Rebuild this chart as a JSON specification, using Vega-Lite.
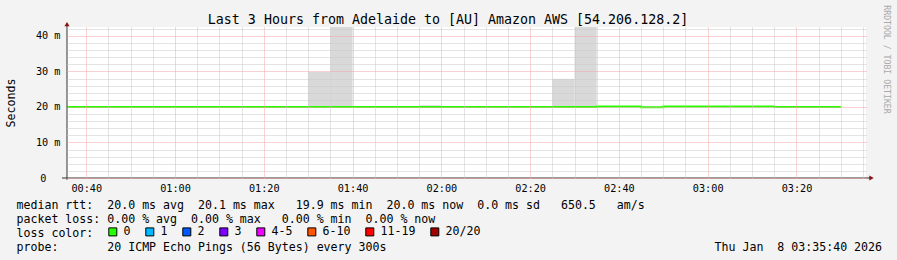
{
  "$schema": "https://vega.github.io/schema/vega-lite/v6.json",
  "width": 799,
  "height": 151,
  "autosize": {"type": "none"},
  "padding": {"left": 67, "top": 27, "right": 31, "bottom": 82},
  "background": "#f3f3f3",
  "title": {"text": "Last 3 Hours from Adelaide to [AU] Amazon AWS [54.206.128.2]", "font": "DejaVu Sans Mono", "fontSize": 13.3, "fontWeight": "normal", "color": "#000000", "anchor": "middle", "frame": "group", "baseline": "alphabetic", "offset": -32.3, "dx": -18.5},
  "config": {"view": {"fill": "#ffffff", "stroke": null}},
  "datasets": {
    "median": [
      {"time": "2026-01-08T00:35:00Z", "rtt": 20.0, "loss": "0"},
      {"time": "2026-01-08T00:40:00Z", "rtt": 20.0, "loss": "0"},
      {"time": "2026-01-08T00:45:00Z", "rtt": 20.0, "loss": "0"},
      {"time": "2026-01-08T00:50:00Z", "rtt": 20.0, "loss": "0"},
      {"time": "2026-01-08T00:55:00Z", "rtt": 20.0, "loss": "0"},
      {"time": "2026-01-08T01:00:00Z", "rtt": 20.0, "loss": "0"},
      {"time": "2026-01-08T01:05:00Z", "rtt": 20.0, "loss": "0"},
      {"time": "2026-01-08T01:10:00Z", "rtt": 20.0, "loss": "0"},
      {"time": "2026-01-08T01:15:00Z", "rtt": 20.0, "loss": "0"},
      {"time": "2026-01-08T01:20:00Z", "rtt": 20.0, "loss": "0"},
      {"time": "2026-01-08T01:25:00Z", "rtt": 20.0, "loss": "0"},
      {"time": "2026-01-08T01:30:00Z", "rtt": 20.0, "loss": "0"},
      {"time": "2026-01-08T01:35:00Z", "rtt": 20.0, "loss": "0"},
      {"time": "2026-01-08T01:40:00Z", "rtt": 20.0, "loss": "0"},
      {"time": "2026-01-08T01:45:00Z", "rtt": 20.0, "loss": "0"},
      {"time": "2026-01-08T01:50:00Z", "rtt": 20.0, "loss": "0"},
      {"time": "2026-01-08T01:55:00Z", "rtt": 20.0, "loss": "0"},
      {"time": "2026-01-08T02:00:00Z", "rtt": 20.0, "loss": "0"},
      {"time": "2026-01-08T02:05:00Z", "rtt": 20.0, "loss": "0"},
      {"time": "2026-01-08T02:10:00Z", "rtt": 20.0, "loss": "0"},
      {"time": "2026-01-08T02:15:00Z", "rtt": 20.0, "loss": "0"},
      {"time": "2026-01-08T02:20:00Z", "rtt": 20.0, "loss": "0"},
      {"time": "2026-01-08T02:25:00Z", "rtt": 20.0, "loss": "0"},
      {"time": "2026-01-08T02:30:00Z", "rtt": 20.0, "loss": "0"},
      {"time": "2026-01-08T02:35:00Z", "rtt": 20.1, "loss": "0"},
      {"time": "2026-01-08T02:40:00Z", "rtt": 20.1, "loss": "0"},
      {"time": "2026-01-08T02:45:00Z", "rtt": 19.9, "loss": "0"},
      {"time": "2026-01-08T02:50:00Z", "rtt": 20.1, "loss": "0"},
      {"time": "2026-01-08T02:55:00Z", "rtt": 20.1, "loss": "0"},
      {"time": "2026-01-08T03:00:00Z", "rtt": 20.1, "loss": "0"},
      {"time": "2026-01-08T03:05:00Z", "rtt": 20.1, "loss": "0"},
      {"time": "2026-01-08T03:10:00Z", "rtt": 20.1, "loss": "0"},
      {"time": "2026-01-08T03:15:00Z", "rtt": 19.95, "loss": "0"},
      {"time": "2026-01-08T03:20:00Z", "rtt": 19.95, "loss": "0"},
      {"time": "2026-01-08T03:25:00Z", "rtt": 19.95, "loss": "0"},
      {"time": "2026-01-08T03:30:00Z", "rtt": 19.95, "loss": "0"}
    ]
  },
  "resolve": {"scale": {"x": "independent", "y": "independent"}},
  "layer": [
    {
      "layer": [
        {
          "data": {"values": [
            {"start": "2026-01-08T01:30:00Z", "end": "2026-01-08T01:35:00Z", "lo": 20.0, "hi": 29.8},
            {"start": "2026-01-08T01:35:00Z", "end": "2026-01-08T01:40:00Z", "lo": 20.0, "hi": 45.0},
            {"start": "2026-01-08T01:55:00Z", "end": "2026-01-08T02:00:00Z", "lo": 20.0, "hi": 20.45},
            {"start": "2026-01-08T02:25:00Z", "end": "2026-01-08T02:30:00Z", "lo": 20.0, "hi": 27.9},
            {"start": "2026-01-08T02:30:00Z", "end": "2026-01-08T02:35:00Z", "lo": 20.0, "hi": 45.0}
          ]},
          "mark": {"type": "rect", "color": "#d9d9d9", "clip": true},
          "encoding": {
            "x": {"field": "start", "type": "temporal", "scale": {"type": "utc", "domain": [1767832540000, 1767843340000]},
              "axis": {"zindex": 1, "values": [1767832800000, 1767834000000, 1767835200000, 1767836400000, 1767837600000, 1767838800000, 1767840000000, 1767841200000, 1767842400000], "tickCount": 30, "format": "%H:%M", "grid": true, "gridColor": "#f4a4a4", "gridDash": [1, 1], "gridOpacity": 1, "domain": false, "ticks": false, "tickSize": 0, "labelPadding": 5, "labelFont": "DejaVu Sans Mono", "labelFontSize": 10.2, "labelColor": "#000000", "labelFlush": false, "labelOverlap": false,
                "title": [
                  "median\u00a0rtt:\u00a0\u00a020.0\u00a0ms\u00a0avg\u00a0\u00a020.1\u00a0ms\u00a0max\u00a0\u00a0\u00a019.9\u00a0ms\u00a0min\u00a0\u00a020.0\u00a0ms\u00a0now\u00a0\u00a00.0\u00a0ms\u00a0sd\u00a0\u00a0\u00a0650.5\u00a0\u00a0\u00a0am/s",
                  "packet\u00a0loss:\u00a00.00\u00a0%\u00a0avg\u00a0\u00a00.00\u00a0%\u00a0max\u00a0\u00a0\u00a00.00\u00a0%\u00a0min\u00a0\u00a00.00\u00a0%\u00a0now",
                  "loss\u00a0color:",
                  "probe:\u00a0\u00a0\u00a0\u00a0\u00a0\u00a0\u00a020\u00a0ICMP\u00a0Echo\u00a0Pings\u00a0(56\u00a0Bytes)\u00a0every\u00a0300s\u00a0\u00a0\u00a0\u00a0\u00a0\u00a0\u00a0\u00a0\u00a0\u00a0\u00a0\u00a0\u00a0\u00a0\u00a0\u00a0\u00a0\u00a0\u00a0\u00a0\u00a0\u00a0\u00a0\u00a0\u00a0\u00a0\u00a0\u00a0\u00a0\u00a0\u00a0\u00a0\u00a0\u00a0\u00a0\u00a0\u00a0\u00a0\u00a0\u00a0\u00a0\u00a0\u00a0\u00a0\u00a0\u00a0\u00a0Thu\u00a0Jan\u00a0\u00a08\u00a003:35:40\u00a02026"
                ],
                "titleFont": "DejaVu Sans Mono", "titleFontSize": 11.6, "titleFontWeight": "normal", "titleColor": "#000000", "titleAlign": "left", "titleAnchor": "start", "titleBaseline": "alphabetic", "titleX": -51, "titleY": 30, "titleLineHeight": 14, "titleLimit": 3000}},
            "x2": {"field": "end"},
            "y": {"field": "lo", "type": "quantitative", "scale": {"domain": [0, 42.5], "nice": false, "zero": false},
              "axis": {"zindex": 1, "values": [0, 10, 20, 30, 40], "tickCount": 10, "labelExpr": "datum.value == 0 ? '0\u2800\u2800' : datum.value + '\u00a0m'", "labelOverlap": false, "grid": true, "gridColor": "#f4a4a4", "gridDash": [1, 1], "gridOpacity": 1, "domain": false, "ticks": false, "tickSize": 0, "labelPadding": 7, "labelFont": "DejaVu Sans Mono", "labelFontSize": 10.2, "labelColor": "#000000", "labelBaseline": "middle",
                "title": "Seconds", "titleFont": "DejaVu Sans Mono", "titleFontSize": 11.6, "titleFontWeight": "normal", "titleColor": "#000000", "titleAngle": -90, "titleAlign": "center", "titleBaseline": "middle", "titleX": -55.5, "titleY": 75.5}},
            "y2": {"field": "hi"}
          }
        },
        {
          "data": {"name": "median"},
          "mark": {"type": "line", "interpolate": "step-after", "strokeWidth": 2, "clip": true},
          "encoding": {
            "x": {"field": "time", "type": "temporal", "scale": {"type": "utc", "domain": [1767832540000, 1767843340000]}},
            "y": {"field": "rtt", "type": "quantitative", "scale": {"domain": [0, 42.5], "nice": false, "zero": false}},
            "stroke": {"field": "loss", "type": "nominal", "scale": {"domain": ["0"], "range": ["#26ff00"]}, "legend": null}
          }
        },
        {
          "data": {"name": "median"},
          "mark": {"type": "square", "opacity": 0, "filled": true, "stroke": "#000000", "strokeWidth": 1},
          "encoding": {
            "x": {"field": "time", "type": "temporal", "scale": {"type": "utc", "domain": [1767832540000, 1767843340000]}},
            "y": {"field": "rtt", "type": "quantitative", "scale": {"domain": [0, 42.5], "nice": false, "zero": false}},
            "fill": {"field": "loss", "type": "nominal", "scale": {"domain": ["0", "1", "2", "3", "4-5", "6-10", "11-19", "20/20"], "range": ["#26ff00", "#00b8ff", "#0059ff", "#7e00ff", "#ee00ff", "#ff5500", "#ff0000", "#a10000"]},
              "legend": {"orient": "none", "legendX": 40, "legendY": 199, "direction": "horizontal", "title": null, "labelFont": "DejaVu Sans Mono", "labelFontSize": 11.6, "labelColor": "#000000", "labelOffset": 5, "labelLimit": 200, "symbolType": "square", "symbolSize": 64, "symbolStrokeColor": "#000000", "symbolStrokeWidth": 1, "symbolOpacity": 1, "columnPadding": 12, "padding": 0, "offset": 0}}
          }
        },
        {
          "data": {"values": [{}]},
          "mark": {"type": "rule", "color": "#333333", "strokeWidth": 1},
          "encoding": {
            "x": {"datum": 1767832540000, "type": "temporal", "scale": {"type": "utc", "domain": [1767832540000, 1767843340000]}},
            "y": {"datum": -0.5, "type": "quantitative", "scale": {"domain": [0, 42.5], "nice": false, "zero": false}},
            "y2": {"datum": 43.4}
          }
        },
        {
          "data": {"values": [{}]},
          "mark": {"type": "rule", "color": "#333333", "strokeWidth": 1},
          "encoding": {
            "x": {"datum": 1767832472400, "type": "temporal", "scale": {"type": "utc", "domain": [1767832540000, 1767843340000]}},
            "x2": {"datum": 1767843414000},
            "y": {"datum": 0, "type": "quantitative", "scale": {"domain": [0, 42.5], "nice": false, "zero": false}}
          }
        },
        {
          "data": {"values": [{}]},
          "mark": {"type": "point", "shape": "triangle-up", "filled": true, "color": "#8b1010", "opacity": 1, "size": 26},
          "encoding": {
            "x": {"datum": 1767832540000, "type": "temporal", "scale": {"type": "utc", "domain": [1767832540000, 1767843340000]}},
            "y": {"datum": 43.3, "type": "quantitative", "scale": {"domain": [0, 42.5], "nice": false, "zero": false}}
          }
        },
        {
          "data": {"values": [{}]},
          "mark": {"type": "point", "shape": "triangle-right", "filled": true, "color": "#8b1010", "opacity": 1, "size": 26},
          "encoding": {
            "x": {"datum": 1767843414000, "type": "temporal", "scale": {"type": "utc", "domain": [1767832540000, 1767843340000]}},
            "y": {"datum": 0, "type": "quantitative", "scale": {"domain": [0, 42.5], "nice": false, "zero": false}}
          }
        }
      ]
    },
    {
      "data": {"values": [{}]},
      "mark": {"type": "point", "opacity": 0},
      "encoding": {
        "x": {"datum": 1767832540000, "type": "temporal", "scale": {"type": "utc", "domain": [1767832540000, 1767843340000]},
          "axis": {"orient": "top", "zindex": 1, "values": [1767833100000, 1767833400000, 1767833700000, 1767834300000, 1767834600000, 1767834900000, 1767835500000, 1767835800000, 1767836100000, 1767836700000, 1767837000000, 1767837300000, 1767837900000, 1767838200000, 1767838500000, 1767839100000, 1767839400000, 1767839700000, 1767840300000, 1767840600000, 1767840900000, 1767841500000, 1767841800000, 1767842100000, 1767842700000, 1767843000000, 1767843300000], "tickCount": 60, "grid": true, "gridColor": "#c8c8c8", "gridDash": [1, 1], "gridOpacity": 1, "labels": false, "ticks": false, "domain": false, "title": null}},
        "y": {"datum": 0, "type": "quantitative", "scale": {"domain": [0, 42.5], "nice": false, "zero": false},
          "axis": {"orient": "right", "zindex": 1, "values": [2, 4, 6, 8, 12, 14, 16, 18, 22, 24, 26, 28, 32, 34, 36, 38, 42], "tickCount": 40, "grid": true, "gridColor": "#c8c8c8", "gridDash": [1, 1], "gridOpacity": 1, "labels": false, "ticks": false, "domain": false,
            "title": "RRDTOOL / TOBI OETIKER", "titleFont": "DejaVu Sans Mono", "titleFontSize": 8.2, "titleFontWeight": "normal", "titleColor": "#aaaaaa", "titleAngle": 90, "titleAlign": "center", "titleBaseline": "middle", "titleX": 19, "titleY": 32}}
      }
    }
  ]
}
